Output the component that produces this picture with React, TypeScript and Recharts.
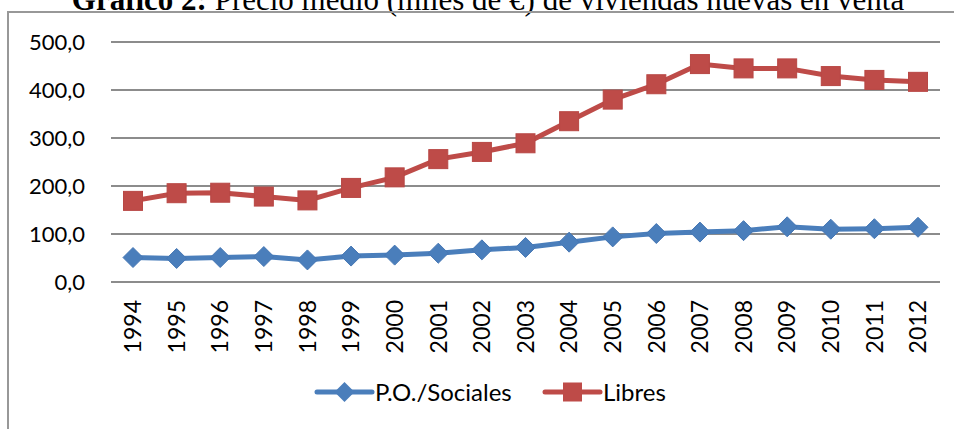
import React from 'react';
import { LineChart, Line, XAxis, YAxis, CartesianGrid, Legend } from 'recharts';

// Datos
const years = ['1994', '1995', '1996', '1997', '1998', '1999', '2000', '2001', '2002', '2003',
  '2004', '2005', '2006', '2007', '2008', '2009', '2010', '2011', '2012'];
const sociales = [51, 49, 51, 53, 46, 54, 56, 60, 67, 72, 83, 94, 101, 104, 107, 115, 110, 111, 114];
const libres = [169, 185, 186, 178, 170, 196, 218, 256, 271, 289, 335, 380, 412, 454, 445, 445, 429, 421, 417];
const yTicks = [0, 100, 200, 300, 400, 500];

const BLUE = '#4A7EBB';
const RED = '#BE4B48';
const FONT = 'Lato, "Open Sans", sans-serif';

const data = years.map((y, i) => ({ year: y, sociales: sociales[i], libres: libres[i] }));

const fmt = (v: number) => v.toFixed(1).replace('.', ',');

const Diamond = ({ cx, cy }: any) => {
  if (cx == null || cy == null) return null;
  const r = 10;
  return (
    <path
      d={`M${cx},${cy - r} L${cx + r},${cy} L${cx},${cy + r} L${cx - r},${cy} Z`}
      fill={BLUE}
      stroke="#4677B4"
      strokeWidth={1}
    />
  );
};

const Square = ({ cx, cy }: any) => {
  if (cx == null || cy == null) return null;
  const r = 9.5;
  return <rect x={cx - r} y={cy - r} width={r * 2} height={r * 2} fill={RED} stroke="#B84744" strokeWidth={1} />;
};

const YearTick = ({ x, y, payload }: any) => (
  <text
    x={x}
    y={y}
    dy="0.36em"
    transform={`rotate(-90, ${x}, ${y})`}
    textAnchor="end"
    fontFamily={FONT}
    fontSize={23}
    fill="#000"
  >
    {payload.value}
  </text>
);

const LegendBox = () => {
  const items = [
    { label: 'P.O./Sociales', color: BLUE, kind: 'diamond', x: 317 },
    { label: 'Libres', color: RED, kind: 'square', x: 545 },
  ];
  return (
    <svg width={954} height={40} style={{ display: 'block' }}>
      {items.map(it => (
        <g key={it.label}>
          <line x1={it.x} y1={20} x2={it.x + 55} y2={20} stroke={it.color} strokeWidth={5} strokeLinecap="round" />
          {it.kind === 'diamond' ? (
            <path d={`M${it.x + 27.5},10 L${it.x + 37.5},20 L${it.x + 27.5},30 L${it.x + 17.5},20 Z`} fill={it.color} />
          ) : (
            <rect x={it.x + 18} y={10.5} width={19} height={19} fill={it.color} />
          )}
          <text x={it.x + 58} y={20} dy="0.36em" fontFamily={FONT} fontSize={24} fill="#000">
            {it.label}
          </text>
        </g>
      ))}
    </svg>
  );
};

export default function App() {
  return (
    <div style={{ position: 'absolute', left: 0, top: 0, width: 954, height: 429, overflow: 'hidden', background: '#fff' }}>
      {/* Título, recortado arriba como en el original */}
      <svg width={954} height={20} style={{ position: 'absolute', left: 0, top: 0 }}>
        <text x={488} y={10} textAnchor="middle" fontFamily='"Liberation Serif", serif' fontSize={31} fill="#000">
          <tspan fontWeight="bold">Gráfico 2:</tspan> Precio medio (miles de €) de viviendas nuevas en venta
        </text>
      </svg>

      {/* Marco del gráfico */}
      <div style={{ position: 'absolute', left: 7, top: 11, width: 1000, height: 500, border: '2px solid #989898' }} />

      <div style={{ position: 'absolute', left: 0, top: 0 }}>
        <LineChart width={954} height={429} data={data} margin={{ top: 42, right: 14, bottom: 0, left: 0 }}>
          <CartesianGrid horizontal vertical={false} stroke="#8C8C8C" strokeWidth={2} />
          <XAxis
            dataKey="year"
            height={107}
            interval={0}
            padding={{ left: 22, right: 22 }}
            tickSize={0}
            tickMargin={18}
            axisLine={{ stroke: '#8C8C8C', strokeWidth: 2 }}
            tickLine={false}
            tick={<YearTick />}
          />
          <YAxis
            domain={[0, 500]}
            ticks={yTicks}
            width={111}
            tickSize={0}
            tickMargin={26}
            axisLine={false}
            tickLine={false}
            tickFormatter={fmt}
            tick={{ fontFamily: FONT, fontSize: 22, fill: '#000' }}
          />
          <Line
            dataKey="sociales"
            name="P.O./Sociales"
            stroke={BLUE}
            strokeWidth={5}
            dot={<Diamond />}
            activeDot={false}
            isAnimationActive={false}
          />
          <Line
            dataKey="libres"
            name="Libres"
            stroke={RED}
            strokeWidth={5}
            dot={<Square />}
            activeDot={false}
            isAnimationActive={false}
          />
          <Legend
            verticalAlign="bottom"
            height={40}
            wrapperStyle={{ left: 0, bottom: 17, width: 954 }}
            content={<LegendBox />}
          />
        </LineChart>
      </div>
    </div>
  );
}
